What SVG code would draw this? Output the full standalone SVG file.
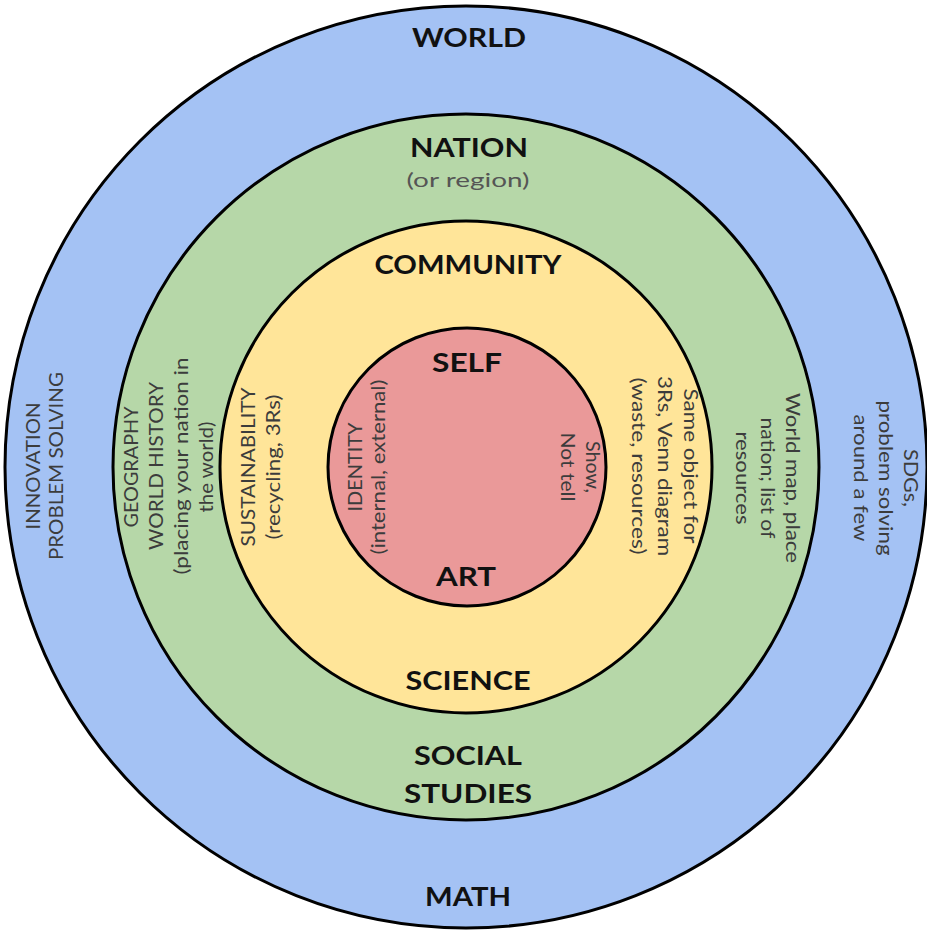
<svg xmlns="http://www.w3.org/2000/svg" width="927" height="933" viewBox="0 0 927 933">
<style>
.ring{stroke:#000;stroke-width:3}
.t{font-family:Lato,"Open Sans","Liberation Sans",sans-serif;font-weight:bold;font-size:26px;fill:#111;text-anchor:middle}
.s{font-family:Lato,"Open Sans","Liberation Sans",sans-serif;font-size:20px;fill:#3c3c3c;text-anchor:middle}
.g{fill:#555}
</style>
<rect width="927" height="933" fill="#fff"/>
<g id="world">
<circle class="ring" cx="466" cy="467" r="461" fill="#a4c2f4"/>
<text class="t" x="469" y="47" textLength="114" lengthAdjust="spacingAndGlyphs">WORLD</text>
<text class="t" x="468" y="906" textLength="86" lengthAdjust="spacingAndGlyphs">MATH</text>
<g transform="translate(0,466) rotate(-90)">
<text class="s" x="0" y="40" textLength="127" lengthAdjust="spacingAndGlyphs">INNOVATION</text>
<text class="s" x="0" y="63" textLength="188" lengthAdjust="spacingAndGlyphs">PROBLEM SOLVING</text>
</g>
<g transform="translate(0,478) rotate(90)">
<text class="s" x="0" y="-904" textLength="58" lengthAdjust="spacingAndGlyphs">SDGs,</text>
<text class="s" x="0" y="-879" textLength="155" lengthAdjust="spacingAndGlyphs">problem solving</text>
<text class="s" x="0" y="-854" textLength="127" lengthAdjust="spacingAndGlyphs">around a few</text>
</g>
</g>
<g id="nation">
<circle class="ring" cx="466" cy="467" r="353" fill="#b6d7a8"/>
<text class="t" x="469" y="157" textLength="118" lengthAdjust="spacingAndGlyphs">NATION</text>
<text class="s g" x="468" y="187" textLength="123" lengthAdjust="spacingAndGlyphs">(or region)</text>
<text class="t" x="468" y="765" textLength="108" lengthAdjust="spacingAndGlyphs">SOCIAL</text>
<text class="t" x="468" y="803" textLength="128" lengthAdjust="spacingAndGlyphs">STUDIES</text>
<g transform="translate(0,0) rotate(-90)">
<text class="s" x="-467" y="138" textLength="121" lengthAdjust="spacingAndGlyphs">GEOGRAPHY</text>
<text class="s" x="-466" y="163" textLength="168" lengthAdjust="spacingAndGlyphs">WORLD HISTORY</text>
<text class="s" x="-466" y="188" textLength="217" lengthAdjust="spacingAndGlyphs">(placing your nation in</text>
<text class="s" x="-467" y="213" textLength="91" lengthAdjust="spacingAndGlyphs">the world)</text>
</g>
<g transform="translate(0,478) rotate(90)">
<text class="s" x="0" y="-786" textLength="170" lengthAdjust="spacingAndGlyphs">World map, place</text>
<text class="s" x="0" y="-761" textLength="121" lengthAdjust="spacingAndGlyphs">nation; list of</text>
<text class="s" x="0" y="-736" textLength="93" lengthAdjust="spacingAndGlyphs">resources</text>
</g>
</g>
<g id="community">
<circle class="ring" cx="466" cy="467" r="246" fill="#ffe599"/>
<text class="t" x="468" y="274" textLength="187" lengthAdjust="spacingAndGlyphs">COMMUNITY</text>
<text class="t" x="468" y="690" textLength="125" lengthAdjust="spacingAndGlyphs">SCIENCE</text>
<g transform="translate(0,467) rotate(-90)">
<text class="s" x="0" y="255" textLength="159" lengthAdjust="spacingAndGlyphs">SUSTAINABILITY</text>
<text class="s" x="0" y="280" textLength="145" lengthAdjust="spacingAndGlyphs">(recycling, 3Rs)</text>
</g>
<g transform="translate(0,466) rotate(90)">
<text class="s" x="0" y="-684" textLength="155" lengthAdjust="spacingAndGlyphs">Same object for</text>
<text class="s" x="0" y="-658" textLength="180" lengthAdjust="spacingAndGlyphs">3Rs, Venn diagram</text>
<text class="s" x="0" y="-632" textLength="177" lengthAdjust="spacingAndGlyphs">(waste, resources)</text>
</g>
</g>
<g id="self">
<circle class="ring" cx="467" cy="467" r="139" fill="#ea9999"/>
<text class="t" x="467" y="372" textLength="70" lengthAdjust="spacingAndGlyphs">SELF</text>
<text class="t" x="466" y="586" textLength="60" lengthAdjust="spacingAndGlyphs">ART</text>
<g transform="translate(0,467) rotate(-90)">
<text class="s" x="0" y="362" textLength="89" lengthAdjust="spacingAndGlyphs">IDENTITY</text>
<text class="s" x="0" y="385" textLength="175" lengthAdjust="spacingAndGlyphs">(internal, external)</text>
</g>
<g transform="translate(0,467) rotate(90)">
<text class="s" x="0" y="-586" textLength="52" lengthAdjust="spacingAndGlyphs">Show,</text>
<text class="s" x="0" y="-561" textLength="69" lengthAdjust="spacingAndGlyphs">Not tell</text>
</g>
</g>
<g id="connectors"/>
</svg>
